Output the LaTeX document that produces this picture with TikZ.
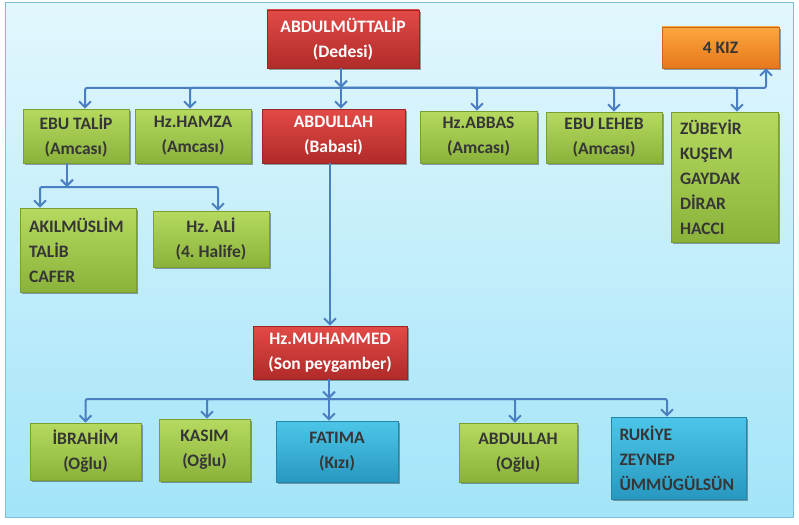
\documentclass[tikz,border=0pt]{standalone}
\usepackage{fontspec}
\setmainfont{Carlito}
\usetikzlibrary{arrows.meta,shadows}
\frenchspacing
\definecolor{bgTop}{HTML}{E2F7FD}
\definecolor{bgBot}{HTML}{A3E4F8}
\definecolor{bgBorder}{HTML}{7FBFD6}
\definecolor{gTop}{HTML}{B6DA60}
\definecolor{gBot}{HTML}{8AB23A}
\definecolor{gBorder}{HTML}{7A9E30}
\definecolor{rTop}{HTML}{E24A47}
\definecolor{rBot}{HTML}{B02B29}
\definecolor{rBorder}{HTML}{9A2624}
\definecolor{bTop}{HTML}{4CC6E8}
\definecolor{bBot}{HTML}{2898C0}
\definecolor{bBorder}{HTML}{2386AA}
\definecolor{oTop}{HTML}{FBA73F}
\definecolor{oBot}{HTML}{E7781B}
\definecolor{oBorder}{HTML}{C8661A}
\definecolor{lineC}{HTML}{4A7FC1}
\definecolor{txtC}{HTML}{363636}
\tikzset{
  box/.style={rectangle, inner xsep=9pt, inner ysep=2pt, align=center, text=txtC,
    font=\fontsize{17.5}{25}\selectfont\bfseries, line width=0.6pt,
    drop shadow={shadow xshift=1.5pt, shadow yshift=-2pt, opacity=0.35, fill=black}},
  greenbox/.style={box, top color=gTop, bottom color=gBot, draw=gBorder},
  redbox/.style={box, top color=rTop, bottom color=rBot, draw=rBorder, text=white},
  bluebox/.style={box, top color=bTop, bottom color=bBot, draw=bBorder},
  orangebox/.style={box, top color=oTop, bottom color=oBot, draw=oBorder},
  listbox/.style={align=left},
  ln/.style={draw=lineC, line width=2pt},
  arr/.style={ln, -{Straight Barb[length=6pt,width=12pt]}},
}
\begin{document}
\begin{tikzpicture}[x=1pt,y=-1pt]
\useasboundingbox (0,0) rectangle (799,524);
\fill[white] (0,0) rectangle (799,524);
\shade[top color=bgTop, bottom color=bgBot, draw=bgBorder, line width=1pt] (5,3) rectangle (793,517);

% nodes
\node[redbox, minimum width=152pt, minimum height=58pt] (dede) at (343,39) {ABDULMÜTTALİP\\(Dedesi)};
\node[orangebox, minimum width=117pt, minimum height=41pt] (kiz) at (720.5,47.5) {4 KIZ};
\node[greenbox, minimum width=106pt, minimum height=54pt] (ebutalip) at (76,136) {EBU TALİP\\(Amcası)};
\node[greenbox, minimum width=116pt, minimum height=54pt] (hamza) at (193,136) {Hz.HAMZA\\(Amcası)};
\node[redbox, minimum width=143pt, minimum height=54pt] (abdullah) at (333.5,136) {ABDULLAH\\(Babasi)};
\node[greenbox, minimum width=117pt, minimum height=52pt] (abbas) at (478.5,137) {Hz.ABBAS\\(Amcası)};
\node[greenbox, minimum width=116pt, minimum height=51pt] (leheb) at (604,137.5) {EBU LEHEB\\(Amcası)};
\node[greenbox, listbox, text width=89pt, minimum width=107pt, minimum height=130pt] (zubeyir) at (724.5,177) {ZÜBEYİR\\KUŞEM\\GAYDAK\\DİRAR\\HACCI};
\node[greenbox, listbox, text width=98pt, minimum width=116pt, minimum height=84pt] (akil) at (78,250) {AKILMÜSLİM\\TALİB\\CAFER};
\node[greenbox, minimum width=116pt, minimum height=56pt] (ali) at (211,239) {Hz. ALİ\\(4. Halife)};
\node[redbox, minimum width=154pt, minimum height=53pt] (muhammed) at (330,352.5) {Hz.MUHAMMED\\(Son peygamber)};
\node[greenbox, minimum width=111pt, minimum height=57pt] (ibrahim) at (85.5,451.5) {İBRAHİM\\(Oğlu)};
\node[greenbox, minimum width=91pt, minimum height=62pt] (kasim) at (204.5,450) {KASIM\\(Oğlu)};
\node[bluebox, minimum width=122pt, minimum height=61pt] (fatima) at (337,451.5) {FATIMA\\(Kızı)};
\node[greenbox, minimum width=118pt, minimum height=59pt] (abdullahb) at (518,452.5) {ABDULLAH\\(Oğlu)};
\node[bluebox, listbox, text width=118pt, minimum width=135pt, minimum height=82pt, inner xsep=8.5pt] (rukiye) at (678.5,458) {RUKİYE\\ZEYNEP\\ÜMMÜGÜLSÜN};

% junctions
\coordinate (j1) at (341,88);
\coordinate (j2) at (67,187);
\coordinate (j3) at (329,399);

% connectors: Abdulmüttalip
\draw[arr] (dede.south -| j1) -- (j1);
\draw[arr, rounded corners=2pt] (j1) -| ([xshift=9pt]ebutalip.north);
\draw[arr, rounded corners=2pt] (j1) -| ([xshift=-3pt]hamza.north);
\draw[arr] (j1) -- (abdullah.north -| j1);
\draw[arr, rounded corners=2pt] (j1) -| ([xshift=-1.5pt]abbas.north);
\draw[arr, rounded corners=2pt] (j1) -| ([xshift=10pt]leheb.north);
\draw[arr, rounded corners=2pt] (j1) -| ([xshift=12.5pt]zubeyir.north);
\draw[arr, rounded corners=2pt] (j1) -| ([xshift=45.5pt]kiz.south);

% connectors: Ebu Talip
\draw[arr] (ebutalip.south -| j2) -- (j2);
\draw[arr, rounded corners=2pt] (j2) -| ([xshift=-38pt]akil.north);
\draw[arr, rounded corners=2pt] (j2) -| ([xshift=7pt]ali.north);

% connector: Abdullah -> Muhammed
\draw[arr] (abdullah.south -| muhammed.north) -- (muhammed.north);

% connectors: Muhammed
\draw[arr] (muhammed.south -| j3) -- (j3);
\draw[arr, rounded corners=2pt] (j3) -| (ibrahim.north);
\draw[arr, rounded corners=2pt] (j3) -| ([xshift=2.5pt]kasim.north);
\draw[arr] (j3) -- (fatima.north -| j3);
\draw[arr, rounded corners=2pt] (j3) -| ([xshift=-3pt]abdullahb.north);
\draw[arr, rounded corners=2pt] (j3) -| ([xshift=-11.5pt]rukiye.north);
\end{tikzpicture}
\end{document}
